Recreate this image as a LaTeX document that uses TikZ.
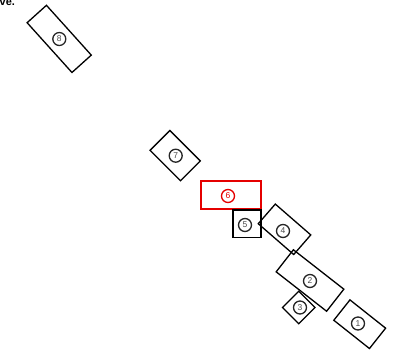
\documentclass[tikz,border=0pt]{standalone}
\usepackage{fontspec}
\setmainfont{Liberation Sans}
\begin{document}
\begin{tikzpicture}[x=1pt,y=-1pt,
  rbox/.style={draw=black, line width=1.3pt, inner sep=0pt},
  redbox/.style={draw=red!90!black, line width=1.3pt, inner sep=0pt},
  num/.style={circle, draw=black!85, line width=1.3pt, minimum size=13pt, inner sep=0pt, font=\fontsize{8.5}{9}\selectfont, text=black!70},
  rednum/.style={num, draw=red!90!black, text=red!90!black}]
\useasboundingbox (0,0) rectangle (398,354);
\node[anchor=base west, inner sep=0pt, font=\bfseries\fontsize{11}{12}\selectfont] (txt) at (-0.5,5.2) {ve.};
% rectangles
\node[rbox, minimum width=67pt, minimum height=26pt, rotate=-48] (r8) at (59.2,38.9) {};
\node[rbox, minimum width=43pt, minimum height=28pt, rotate=-45] (r7) at (175.2,155.6) {};
\node[redbox, minimum width=60pt, minimum height=28pt] (r6) at (231,195) {};
\node[rbox, minimum width=28pt, minimum height=27.5pt] (r5) at (247,223.7) {};
\node[rbox, minimum width=47pt, minimum height=26pt, rotate=-41] (r4) at (284.5,229.3) {};
\node[rbox, minimum width=64pt, minimum height=28pt, rotate=-38] (r2) at (310,280.5) {};
\node[rbox, minimum width=23pt, minimum height=23pt, rotate=-45] (r3) at (298.7,307.5) {};
\node[rbox, minimum width=45.5pt, minimum height=26pt, rotate=-38.4] (r1) at (359.7,324.2) {};
% numbers
\node[num] (c8) at (59.3,39) {8};
\node[num] (c7) at (175.7,155.7) {7};
\node[rednum] (c6) at (228,196) {6};
\node[num] (c5) at (245,225) {5};
\node[num] (c4) at (283,231) {4};
\node[num] (c2) at (310,281) {2};
\node[num] (c3) at (300,307.5) {3};
\node[num] (c1) at (358,323.5) {1};
\end{tikzpicture}
\end{document}
